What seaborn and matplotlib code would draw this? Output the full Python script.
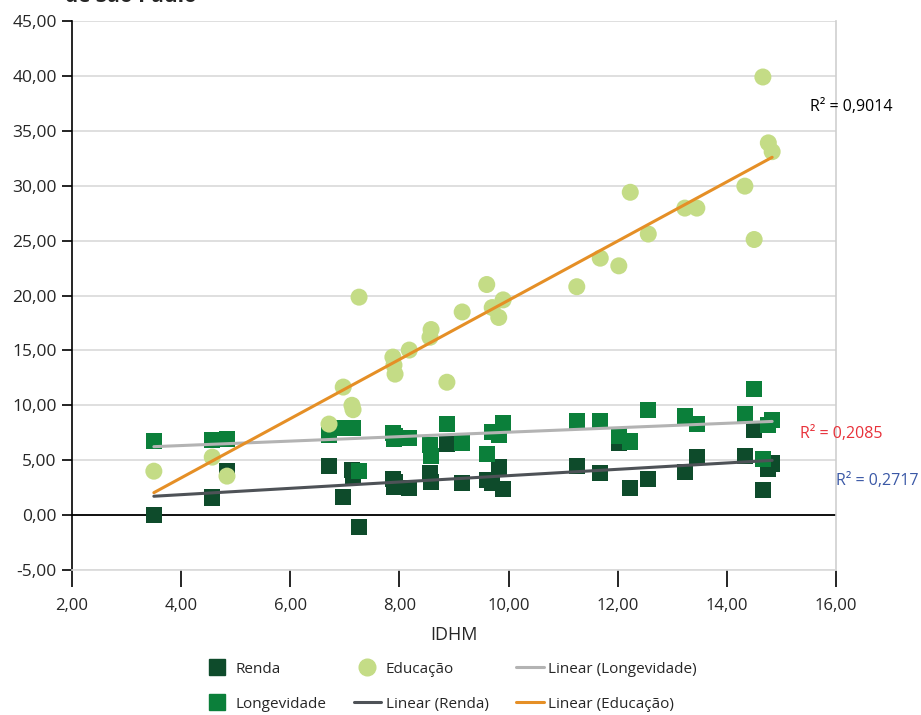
import matplotlib
matplotlib.use('Agg')
import matplotlib.pyplot as plt
import matplotlib.ticker as mticker
from matplotlib.lines import Line2D
import seaborn as sns
import numpy as np
import pandas as pd

# ------------------------
# Dados
# ------------------------
idhm = [3.50, 4.57, 4.84, 6.71, 6.97, 7.13, 7.15, 7.26, 7.88, 7.90, 7.92,
        8.18, 8.56, 8.58, 8.87, 9.15, 9.60, 9.70, 9.82, 9.90, 11.25, 11.68,
        12.02, 12.23, 12.56, 13.23, 13.45, 14.33, 14.50, 14.66, 14.76, 14.83]
renda = [0.0, 1.6, 4.0, 4.5, 1.65, 4.1, 3.6, -1.1, 3.3, 2.6, 3.0,
         2.5, 3.8, 3.0, 6.5, 2.9, 3.2, 2.9, 4.4, 2.4, 4.5, 3.8,
         6.6, 2.5, 3.3, 3.9, 5.3, 5.4, 7.8, 2.3, 4.2, 4.7]
educacao = [4.0, 5.28, 3.55, 8.29, 11.66, 10.0, 9.6, 19.85, 14.39, 13.66, 12.84,
            15.03, 16.2, 16.9, 12.1, 18.5, 21.0, 18.9, 18.0, 19.6, 20.8, 23.4,
            22.7, 29.4, 25.6, 27.96, 27.96, 29.96, 25.1, 39.9, 33.9, 33.1]
longevidade = [6.74, 6.83, 6.9, 7.3, 7.9, 7.9, 7.9, 4.0, 7.5, 6.9, 7.2,
               7.0, 6.4, 5.4, 8.3, 6.6, 5.6, 7.6, 7.3, 8.4, 8.6, 8.6,
               7.2, 6.7, 9.6, 9.0, 8.3, 9.2, 11.5, 5.1, 8.2, 8.7]

r2_labels = ['R² = 0,9014', 'R² = 0,2085', 'R² = 0,2717']

df = pd.DataFrame({'IDHM': idhm, 'Renda': renda,
                   'Educação': educacao, 'Longevidade': longevidade})

# cores
c_renda = '#0e4b2b'
c_long = '#0b7f3a'
c_edu = '#c4dc86'
c_lin_edu = '#e58f26'
c_lin_long = '#b3b3b3'
c_lin_renda = '#4e5257'

sns.set_style('white')
plt.rcParams['font.family'] = ['Open Sans', 'DejaVu Sans']

fig = plt.figure(figsize=(9.21, 7.15), dpi=100)
ax = fig.add_axes([72/921, 1 - 570/715, (836 - 72)/921, (570 - 21)/715])

# ------------------------
# Pontos
# ------------------------
sns.scatterplot(data=df, x='IDHM', y='Renda', marker='s', s=135, color=c_renda,
                edgecolor='none', linewidth=0, ax=ax, zorder=3)
sns.scatterplot(data=df, x='IDHM', y='Longevidade', marker='s', s=135, color=c_long,
                edgecolor='none', linewidth=0, ax=ax, zorder=3)
sns.scatterplot(data=df, x='IDHM', y='Educação', marker='o', s=150, color=c_edu,
                edgecolor='none', linewidth=0, ax=ax, zorder=3)

# ------------------------
# Linhas de tendência
# ------------------------
sns.regplot(data=df, x='IDHM', y='Longevidade', scatter=False, ci=None, truncate=True,
            color=c_lin_long, line_kws={'linewidth': 2.2, 'zorder': 4}, ax=ax)
sns.regplot(data=df, x='IDHM', y='Renda', scatter=False, ci=None, truncate=True,
            color=c_lin_renda, line_kws={'linewidth': 2.2, 'zorder': 4}, ax=ax)
sns.regplot(data=df, x='IDHM', y='Educação', scatter=False, ci=None, truncate=True,
            color=c_lin_edu, line_kws={'linewidth': 2.2, 'zorder': 4}, ax=ax)

# ------------------------
# Eixos
# ------------------------
ax.set_xlim(2, 16)
ax.set_ylim(-5, 45)
ax.set_xticks(np.arange(2, 17, 2))
ax.set_yticks(np.arange(-5, 46, 5))
fmt = mticker.FuncFormatter(lambda v, p: f'{v:.2f}'.replace('.', ','))
ax.xaxis.set_major_formatter(fmt)
ax.yaxis.set_major_formatter(fmt)
ax.grid(axis='y', color='#d9d9d9', linewidth=1.2, zorder=0)
ax.set_axisbelow(True)
ax.axhline(0, color='black', linewidth=1.3, zorder=2)

ax.spines['top'].set_visible(False)
ax.spines['left'].set_color('black')
ax.spines['left'].set_linewidth(1.2)
ax.spines['bottom'].set_color('#d9d9d9')
ax.spines['bottom'].set_linewidth(1.2)
ax.spines['right'].set_color('#cfcfcf')
ax.spines['right'].set_linewidth(1.2)

ax.tick_params(axis='y', direction='out', length=7, width=1.2, color='black',
               labelsize=12.5, pad=4, left=True)
ax.tick_params(axis='x', direction='out', length=12, width=1.2, color='black',
               labelsize=12, pad=8, bottom=True)
ax.set_xlabel('IDHM', fontsize=13, labelpad=9)
ax.set_ylabel('')

# R² labels
fig.text(810/921, 1 - 107/715, r2_labels[0], fontsize=11.5, color='black', va='center')
fig.text(800/921, 1 - 434/715, r2_labels[1], fontsize=11.5, color='#e8313a', va='center')
fig.text(836/921, 1 - 481/715, r2_labels[2], fontsize=11.5, color='#3a58a6', va='center')

# título (cortado no topo, como no original)
fig.text(65/921, 1 + 4/715, 'de São Paulo', fontsize=15, fontweight='bold', va='center')

# ------------------------
# Legenda
# ------------------------
handles = [
    Line2D([], [], marker='s', linestyle='none', markersize=12, color=c_renda),
    Line2D([], [], marker='s', linestyle='none', markersize=12, color=c_long),
    Line2D([], [], marker='o', linestyle='none', markersize=12, color=c_edu),
    Line2D([], [], color=c_lin_renda, linewidth=2.2),
    Line2D([], [], color=c_lin_long, linewidth=2.2),
    Line2D([], [], color=c_lin_edu, linewidth=2.2),
]
labels = ['Renda', 'Longevidade', 'Educação', 'Linear (Renda)',
          'Linear (Longevidade)', 'Linear (Educação)']
fig.legend(handles, labels, loc='upper center', bbox_to_anchor=(450/921, 1 - 648/715),
           ncol=3, frameon=False, fontsize=11, handlelength=1.8, handletextpad=0.3,
           columnspacing=1.8, labelspacing=1.3)

plt.savefig('out.png', dpi=100)
plt.close()
